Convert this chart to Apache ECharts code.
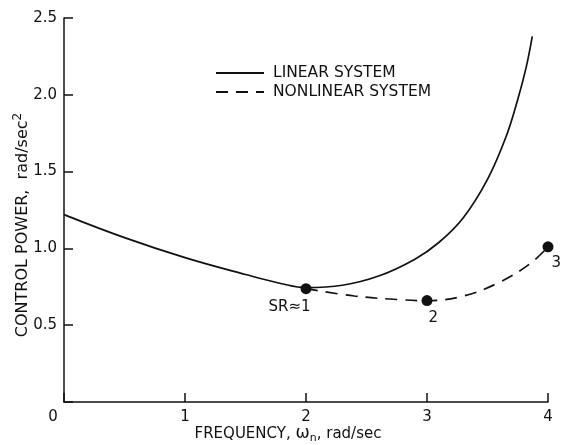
<!DOCTYPE html>
<html><head><meta charset="utf-8">
<script src="https://cdn.jsdelivr.net/npm/echarts@6/dist/echarts.min.js"></script>
<style>html,body{margin:0;padding:0;background:#fff}#c{width:562px;height:445px}</style>
</head><body><div id="c"></div>
<script>
// Linear system curve (frequency, control power)
const linearX = [0, 0.5, 1.0, 1.5, 1.8, 2.0, 2.3, 2.6, 2.9, 3.1, 3.3, 3.5, 3.65, 3.75, 3.82, 3.87];
const linearY = [1.22, 1.07, 0.94, 0.83, 0.77, 0.745, 0.76, 0.82, 0.93, 1.04, 1.2, 1.45, 1.72, 1.97, 2.18, 2.38];
// Nonlinear system curve
const nonlinX = [2.0, 2.4, 2.8, 3.0, 3.3, 3.6, 3.85, 4.0];
const nonlinY = [0.738, 0.69, 0.665, 0.66, 0.69, 0.78, 0.9, 1.01];
// Marked points
const pointX = [2, 3, 4];
const pointY = [0.738, 0.66, 1.01];
const pointLabels = ['SR≈1', '2', '3'];
const xTicks = [0, 1, 2, 3, 4];
const yTicks = [0, 0.5, 1.0, 1.5, 2.0, 2.5];

const zip = (a, b) => a.map((v, i) => [v, b[i]]);
const FONT = 'DejaVu Sans';
const INK = '#111';
const chart = echarts.init(document.getElementById('c'), null, {renderer: 'canvas'});
chart.setOption({
  animation: false,
  backgroundColor: '#fff',
  textStyle: {fontFamily: FONT, color: INK},
  grid: {left: 64, right: 14, top: 18, bottom: 43, containLabel: false, outerBoundsMode: 'none'},
  legend: {
    orient: 'vertical', left: 210, top: 60, itemWidth: 48, itemHeight: 10, itemGap: 3,
    itemStyle: {opacity: 0},
    textStyle: {fontFamily: FONT, fontSize: 15.5, color: INK, padding: [0, 0, 0, 4]},
    data: ['LINEAR SYSTEM', 'NONLINEAR SYSTEM']
  },
  xAxis: {
    type: 'value', min: 0, max: 4, interval: 1,
    name: 'FREQUENCY, {i|ω}{s|n}, rad/sec', nameLocation: 'middle', nameGap: 22, nameMoveOverlap: false,
    nameTextStyle: {fontFamily: FONT, fontSize: 15, color: INK, padding: [0, 36, 0, 0],
      rich: {i: {fontSize: 17, fontFamily: FONT, color: INK}, s: {fontSize: 11, fontFamily: FONT, color: INK, verticalAlign: 'bottom', padding: [9, 0, 0, 0]}}},
    axisLine: {lineStyle: {color: INK, width: 1.5}},
    axisTick: {inside: true, length: 9, lineStyle: {color: INK, width: 1.5}},
    axisLabel: {fontFamily: FONT, fontSize: 15, color: INK, margin: 8,
      formatter: v => v === 0 ? '{z|0}' : String(v),
      rich: {z: {fontFamily: FONT, fontSize: 15, color: INK, padding: [0, 22, 0, 0]}}},
    splitLine: {show: false}
  },
  yAxis: {
    type: 'value', min: 0, max: 2.5, interval: 0.5,
    name: 'CONTROL POWER,  rad/sec{sup|2}', nameLocation: 'middle', nameGap: 30, nameMoveOverlap: false,
    nameTextStyle: {fontFamily: FONT, fontSize: 16, color: INK, padding: [0, 30, 0, 0],
      rich: {sup: {fontSize: 12, fontFamily: FONT, color: INK, verticalAlign: 'top', padding: [0, 0, 10, 0]}}},
    axisLine: {lineStyle: {color: INK, width: 1.5}},
    axisTick: {inside: true, length: 9, lineStyle: {color: INK, width: 1.5}},
    axisLabel: {fontFamily: FONT, fontSize: 15, color: INK, margin: 7,
      formatter: v => v === 0 ? '' : v.toFixed(1)},
    splitLine: {show: false}
  },
  series: [
    {name: 'LINEAR SYSTEM', type: 'line', smooth: 0.4, symbol: 'none',
     lineStyle: {color: INK, width: 1.7}, itemStyle: {color: INK},
     data: zip(linearX, linearY)},
    {name: 'NONLINEAR SYSTEM', type: 'line', smooth: 0.4, symbol: 'none',
     lineStyle: {color: INK, width: 1.7, type: [12, 8]}, itemStyle: {color: INK},
     data: zip(nonlinX, nonlinY)},
    {name: 'points', type: 'scatter', symbolSize: 11, itemStyle: {color: INK, opacity: 1},
     data: pointX.map((x, i) => ({value: [x, pointY[i]],
       label: {show: true, formatter: pointLabels[i], fontFamily: FONT, fontSize: 15, color: INK,
         position: i === 0 ? [-32, 16] : (i === 1 ? [7, 15] : [9, 14])}}))}
  ]
});
</script></body></html>
